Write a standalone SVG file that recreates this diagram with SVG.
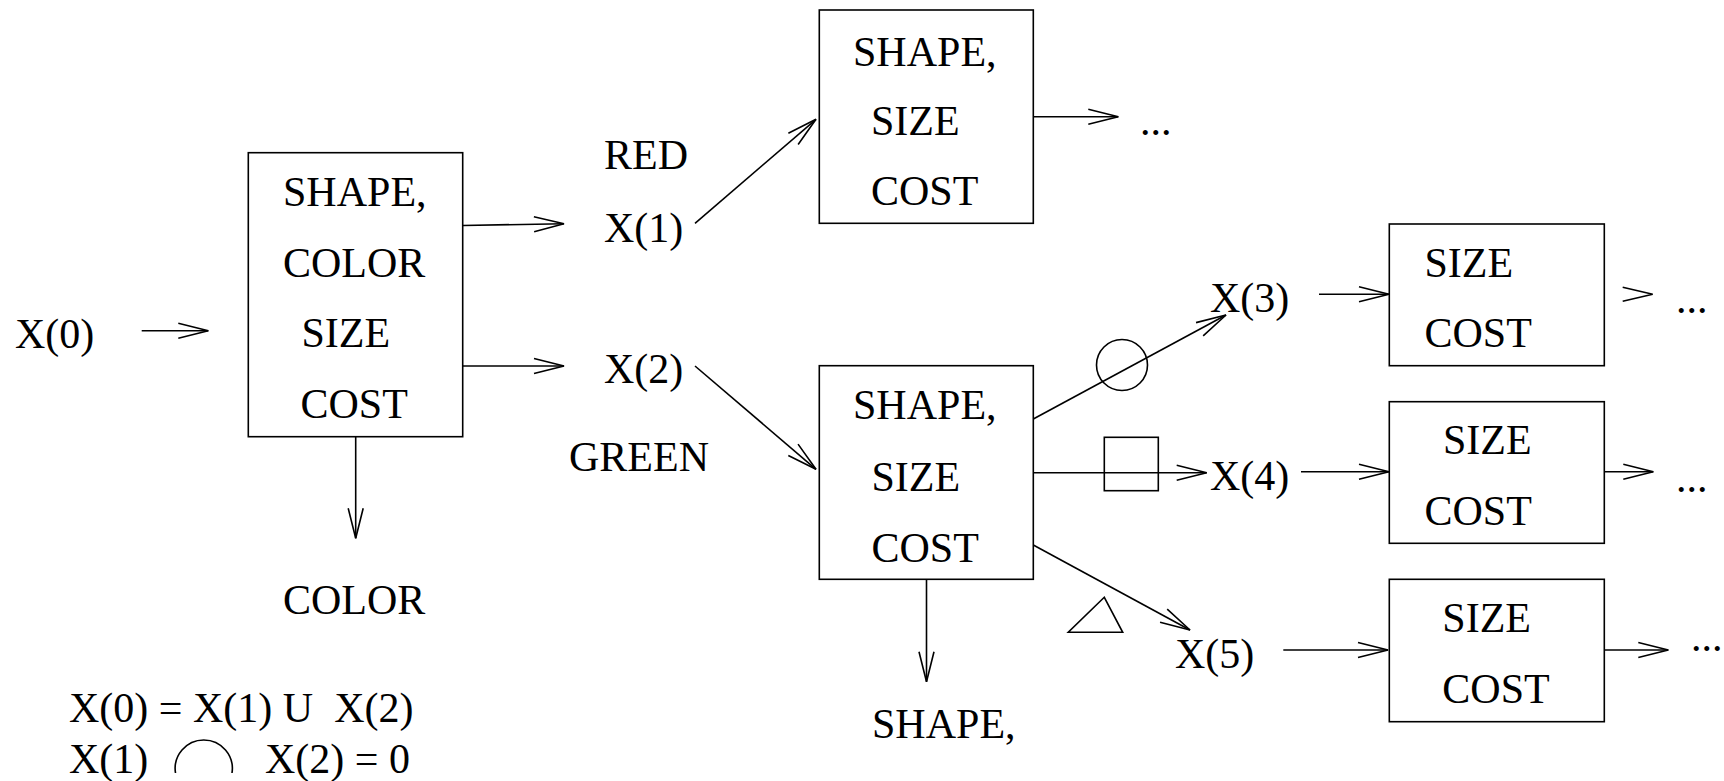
<svg xmlns="http://www.w3.org/2000/svg" width="1724" height="781" viewBox="0 0 1724 781">
<style>
text{font-family:"Liberation Serif","Times New Roman",Tinos,serif;font-size:42px;fill:#000;white-space:pre}
.box{fill:none;stroke:#000;stroke-width:1.6}
.ln{fill:none;stroke:#000;stroke-width:1.6}
.ar{fill:none;stroke:#000;stroke-width:1.6;marker-end:url(#ah)}
</style>
<defs>
<marker id="ah" markerUnits="userSpaceOnUse" markerWidth="34" markerHeight="20" viewBox="-2 -10 34 20" refX="30" refY="0" orient="auto">
<path d="M0,-7.5 L30,0 L0,7.5" fill="none" stroke="#000" stroke-width="1.6"/>
</marker>
</defs>
<rect width="1724" height="781" fill="#fff"/>

<g id="x0"><text x="15" y="348">X(0)</text></g>

<g id="box1">
<rect class="box" x="248.3" y="152.7" width="214.4" height="284"/>
<text x="283" y="206">SHAPE,</text>
<text x="283" y="276.7">COLOR</text>
<text x="301.5" y="347.3">SIZE</text>
<text x="300.5" y="418.3">COST</text>
</g>

<g id="color_out"><text x="283" y="614">COLOR</text></g>

<g id="x1">
<text x="604" y="169.3">RED</text>
<text x="604" y="241.7">X(1)</text>
</g>
<g id="x2">
<text x="604" y="383.3">X(2)</text>
<text x="569" y="471">GREEN</text>
</g>

<g id="box_top">
<rect class="box" x="819.3" y="10" width="214" height="213.3"/>
<text x="853" y="66">SHAPE,</text>
<text x="871" y="135">SIZE</text>
<text x="871" y="205">COST</text>
</g>
<g id="dots_top"><text x="1140" y="135">...</text></g>

<g id="box_mid">
<rect class="box" x="819.3" y="365.7" width="214" height="213.6"/>
<text x="853" y="419.3">SHAPE,</text>
<text x="871.5" y="491">SIZE</text>
<text x="871.5" y="561.7">COST</text>
</g>
<g id="shape_out"><text x="872" y="738.3">SHAPE,</text></g>

<g id="symbols">
<circle class="ln" cx="1122" cy="365" r="25.5"/>
<rect class="ln" x="1104.3" y="437.3" width="54" height="53.4"/>
<polygon class="ln" points="1068.3,632.3 1122.7,632.3 1104.3,597.3"/>
</g>

<g id="x3"><text x="1210" y="311.7">X(3)</text></g>
<g id="x4"><text x="1210" y="490">X(4)</text></g>
<g id="x5"><text x="1175" y="668.3">X(5)</text></g>

<g id="boxA">
<rect class="box" x="1389.3" y="224" width="215" height="141.7"/>
<text x="1424.5" y="276.7">SIZE</text>
<text x="1424.5" y="346.7">COST</text>
</g>
<g id="boxB">
<rect class="box" x="1389.3" y="401.7" width="215" height="141.6"/>
<text x="1443" y="454">SIZE</text>
<text x="1424.5" y="525">COST</text>
</g>
<g id="boxC">
<rect class="box" x="1389.3" y="579.3" width="215" height="142.4"/>
<text x="1442.3" y="631.7">SIZE</text>
<text x="1442.3" y="703.3">COST</text>
</g>
<g id="dots_right">
<text x="1676" y="313">...</text>
<text x="1676" y="491.7">...</text>
<text x="1691" y="651">...</text>
</g>

<g id="legend">
<text x="69" y="721.7">X(0) = X(1) U  X(2)</text>
<text x="69" y="773.3">X(1)</text>
<path class="ln" d="M175.5,773 A28.6,28.6 0 1 1 232,773"/>
<text x="265" y="773.3">X(2) = 0</text>
</g>

<g id="connectors">
<line class="ar" x1="141.7" y1="330.7" x2="208.3" y2="330.7"/>
<line class="ar" x1="462.7" y1="225.5" x2="564" y2="223.7"/>
<line class="ar" x1="462.7" y1="366" x2="564" y2="366"/>
<line class="ar" x1="355.7" y1="436.7" x2="355.7" y2="538.3"/>
<line class="ar" x1="695" y1="223.3" x2="816" y2="119.3"/>
<line class="ar" x1="695" y1="366" x2="816" y2="469.3"/>
<line class="ar" x1="1033.3" y1="116.7" x2="1118.3" y2="116.7"/>
<line class="ar" x1="1033.3" y1="419" x2="1226" y2="315"/>
<line class="ar" x1="1033.3" y1="472.7" x2="1206.7" y2="472.7"/>
<line class="ar" x1="1033.3" y1="545" x2="1190" y2="630"/>
<line class="ar" x1="926.5" y1="579.3" x2="926.5" y2="681.7"/>
<line class="ar" x1="1319" y1="294.3" x2="1389" y2="294.3"/>
<path class="ln" d="M1622.7,287.3 L1652.7,294.3 L1622.7,301.3"/>
<line class="ar" x1="1301" y1="471.7" x2="1389" y2="471.7"/>
<line class="ar" x1="1604.3" y1="471.7" x2="1653.3" y2="471.7"/>
<line class="ar" x1="1283.3" y1="650" x2="1388" y2="650"/>
<line class="ar" x1="1604.3" y1="650" x2="1668.3" y2="650"/>
</g>
</svg>
